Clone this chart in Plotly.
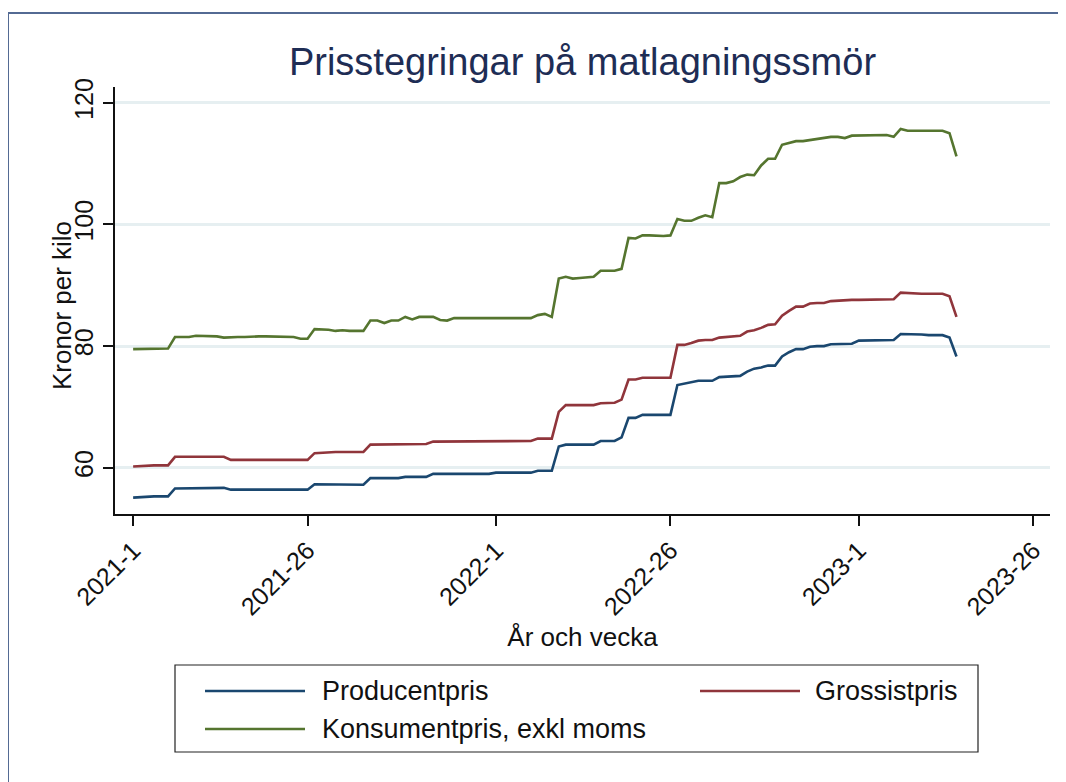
import plotly.graph_objects as go

# ---- data (weekly index 0 = 2021-1) ----
weeks = list(range(119))
producentpris = [
    55.1, 55.2, 55.2, 55.3, 55.3, 55.3, 56.6, 56.6, 56.7, 56.7,
    56.7, 56.7, 56.7, 56.7, 56.4, 56.4, 56.4, 56.4, 56.4, 56.4,
    56.4, 56.4, 56.3, 56.3, 56.3, 56.4, 57.3, 57.3, 57.3, 57.3,
    57.2, 57.2, 57.2, 57.2, 58.3, 58.3, 58.3, 58.3, 58.3, 58.5,
    58.5, 58.5, 58.5, 59.0, 59.0, 59.0, 59.0, 59.0, 59.0, 59.0,
    59.0, 59.0, 59.2, 59.2, 59.2, 59.2, 59.2, 59.2, 59.5, 59.5,
    59.5, 63.5, 63.8, 63.8, 63.8, 63.8, 63.8, 64.4, 64.4, 64.4,
    65.0, 68.2, 68.2, 68.7, 68.7, 68.7, 68.7, 68.7, 73.6, 73.8,
    74.0, 74.3, 74.3, 74.3, 74.9, 75.0, 75.0, 75.1, 75.8, 76.3,
    76.5, 76.8, 76.8, 78.3, 79.0, 79.5, 79.5, 79.9, 80.0, 80.0,
    80.3, 80.3, 80.4, 80.4, 80.9, 80.9, 80.9, 80.9, 81.0, 81.0,
    82.0, 82.0, 82.0, 81.9, 81.8, 81.8, 81.8, 81.4, 78.3,
]
grossistpris = [
    60.2, 60.3, 60.3, 60.4, 60.4, 60.4, 61.8, 61.8, 61.8, 61.8,
    61.8, 61.8, 61.8, 61.8, 61.3, 61.3, 61.3, 61.3, 61.3, 61.3,
    61.3, 61.3, 61.3, 61.3, 61.3, 61.3, 62.4, 62.5, 62.6, 62.6,
    62.6, 62.6, 62.6, 62.6, 63.8, 63.8, 63.8, 63.8, 63.8, 63.9,
    63.9, 63.9, 63.9, 64.3, 64.3, 64.3, 64.3, 64.3, 64.3, 64.3,
    64.3, 64.3, 64.4, 64.4, 64.4, 64.4, 64.4, 64.4, 64.8, 64.8,
    64.8, 69.2, 70.3, 70.3, 70.3, 70.3, 70.3, 70.6, 70.7, 70.7,
    71.2, 74.5, 74.5, 74.8, 74.8, 74.8, 74.8, 74.8, 80.2, 80.2,
    80.5, 80.9, 81.0, 81.0, 81.4, 81.5, 81.5, 81.7, 82.4, 82.6,
    83.0, 83.5, 83.6, 85.0, 85.8, 86.5, 86.5, 87.0, 87.1, 87.1,
    87.4, 87.5, 87.5, 87.6, 87.6, 87.6, 87.7, 87.7, 87.7, 87.7,
    88.8, 88.7, 88.6, 88.6, 88.6, 88.6, 88.6, 88.2, 84.8,
]
konsumentpris = [
    79.5, 79.5, 79.5, 79.5, 79.5, 79.6, 81.5, 81.5, 81.5, 81.7,
    81.7, 81.7, 81.6, 81.4, 81.5, 81.5, 81.5, 81.6, 81.6, 81.6,
    81.6, 81.6, 81.6, 81.5, 81.2, 81.2, 82.8, 82.8, 82.7, 82.5,
    82.6, 82.5, 82.5, 82.5, 84.2, 84.2, 83.8, 84.2, 84.2, 84.8,
    84.4, 84.8, 84.8, 84.8, 84.3, 84.2, 84.6, 84.6, 84.6, 84.6,
    84.6, 84.6, 84.6, 84.6, 84.6, 84.6, 84.6, 84.6, 85.1, 85.3,
    84.8, 91.1, 91.4, 91.1, 91.2, 91.3, 91.4, 92.4, 92.4, 92.4,
    92.7, 97.8, 97.7, 98.2, 98.2, 98.1, 98.1, 98.2, 100.9, 100.6,
    100.6, 101.1, 101.5, 101.2, 106.8, 106.8, 107.1, 107.8, 108.2, 108.1,
    109.7, 110.8, 110.8, 113.1, 113.4, 113.7, 113.7, 113.9, 114.1, 114.3,
    114.4, 114.4, 114.2, 114.6, 114.6, 114.6, 114.6, 114.6, 114.7, 114.4,
    115.7, 115.4, 115.4, 115.4, 115.4, 115.4, 115.4, 115.0, 111.2,
]
tick_weeks = [0, 25, 52, 77, 104, 129]
tick_labels = ["2021-1", "2021-26", "2022-1", "2022-26", "2023-1", "2023-26"]
y_ticks = [60, 80, 100, 120]
series_names = ["Producentpris", "Grossistpris", "Konsumentpris, exkl moms"]
series_colors = ["#1a476f", "#90353b", "#55752f"]

FONT = "Liberation Sans, Arial, sans-serif"
W, H = 1066, 782
OFF = 8  # page offset of the figure in the browser window
# plot area in window pixels: x 115..1050, y 87..514
ML = 115 - OFF
MT = 87 - OFF
PW = 1050 - 115
PH = 514 - 87
MR = W - ML - PW
MB = H - MT - PH


def px(X):
    return (X - OFF - ML) / PW


def py(Y):
    return (MT + PH - (Y - OFF)) / PH


fig = go.Figure()
for name, vals, col in zip(series_names, [producentpris, grossistpris, konsumentpris], series_colors):
    fig.add_trace(go.Scatter(x=weeks, y=vals, mode="lines", name=name,
                             line=dict(color=col, width=2.6), showlegend=False))

shapes = []
annotations = []
# outer graph-region frame
shapes.append(dict(type="rect", xref="paper", yref="paper",
                   x0=px(8), x1=px(1090), y0=py(800), y1=py(13),
                   line=dict(color="#536a93", width=2), fillcolor="rgba(0,0,0,0)", layer="below"))
# legend box
shapes.append(dict(type="rect", xref="paper", yref="paper",
                   x0=px(175), x1=px(978), y0=py(752), y1=py(665),
                   line=dict(color="#222222", width=1.2), fillcolor="white"))
legend_items = [
    (series_names[0], series_colors[0], 205, 320, 691),
    (series_names[1], series_colors[1], 700, 813, 691),
    (series_names[2], series_colors[2], 205, 320, 729),
]
for name, col, lx, tx, ly in legend_items:
    shapes.append(dict(type="line", xref="paper", yref="paper",
                       x0=px(lx), x1=px(lx + 100), y0=py(ly), y1=py(ly),
                       line=dict(color=col, width=2.6)))
    annotations.append(dict(xref="paper", yref="paper", x=px(tx), y=py(ly),
                            text=name, showarrow=False, xanchor="left", yanchor="middle",
                            font=dict(family=FONT, size=27, color="#111111")))
# y-axis title
annotations.append(dict(xref="paper", yref="paper", x=px(62), y=py(306),
                        text="Kronor per kilo", showarrow=False, textangle=-90,
                        xanchor="center", yanchor="middle",
                        font=dict(family=FONT, size=26, color="#111111")))

fig.update_layout(
    width=W, height=H,
    margin=dict(l=ML, r=MR, t=MT, b=MB, autoexpand=False),
    paper_bgcolor="white", plot_bgcolor="white",
    title=dict(text="Prisstegringar på matlagningssmör", x=0.5, xref="paper",
               y=1 - (62 - OFF) / H, yref="container", yanchor="middle", xanchor="center",
               font=dict(family=FONT, size=38, color="#1e2d55")),
    font=dict(family=FONT, size=22, color="#111111"),
    shapes=shapes, annotations=annotations,
    showlegend=False,
)
fig.update_xaxes(
    range=[-2.6, 131.4], tickvals=tick_weeks, ticktext=tick_labels, tickangle=-45,
    ticks="outside", ticklen=10, tickwidth=1.5, tickcolor="#111111",
    showline=True, linecolor="#111111", linewidth=1.5, showgrid=False, zeroline=False,
    tickfont=dict(family=FONT, size=25, color="#111111"),
    title=dict(text="År och vecka", font=dict(family=FONT, size=26, color="#111111"), standoff=8),
)
fig.update_yaxes(
    range=[52.4, 122.6], tickvals=y_ticks, tickangle=-90,
    ticks="outside", ticklen=10, tickwidth=1.5, tickcolor="#111111",
    showline=True, linecolor="#111111", linewidth=1.5,
    showgrid=True, gridcolor="#e6eff1", gridwidth=2.5, zeroline=False,
    tickfont=dict(family=FONT, size=25, color="#111111"),
)

fig.write_html("out.html")
